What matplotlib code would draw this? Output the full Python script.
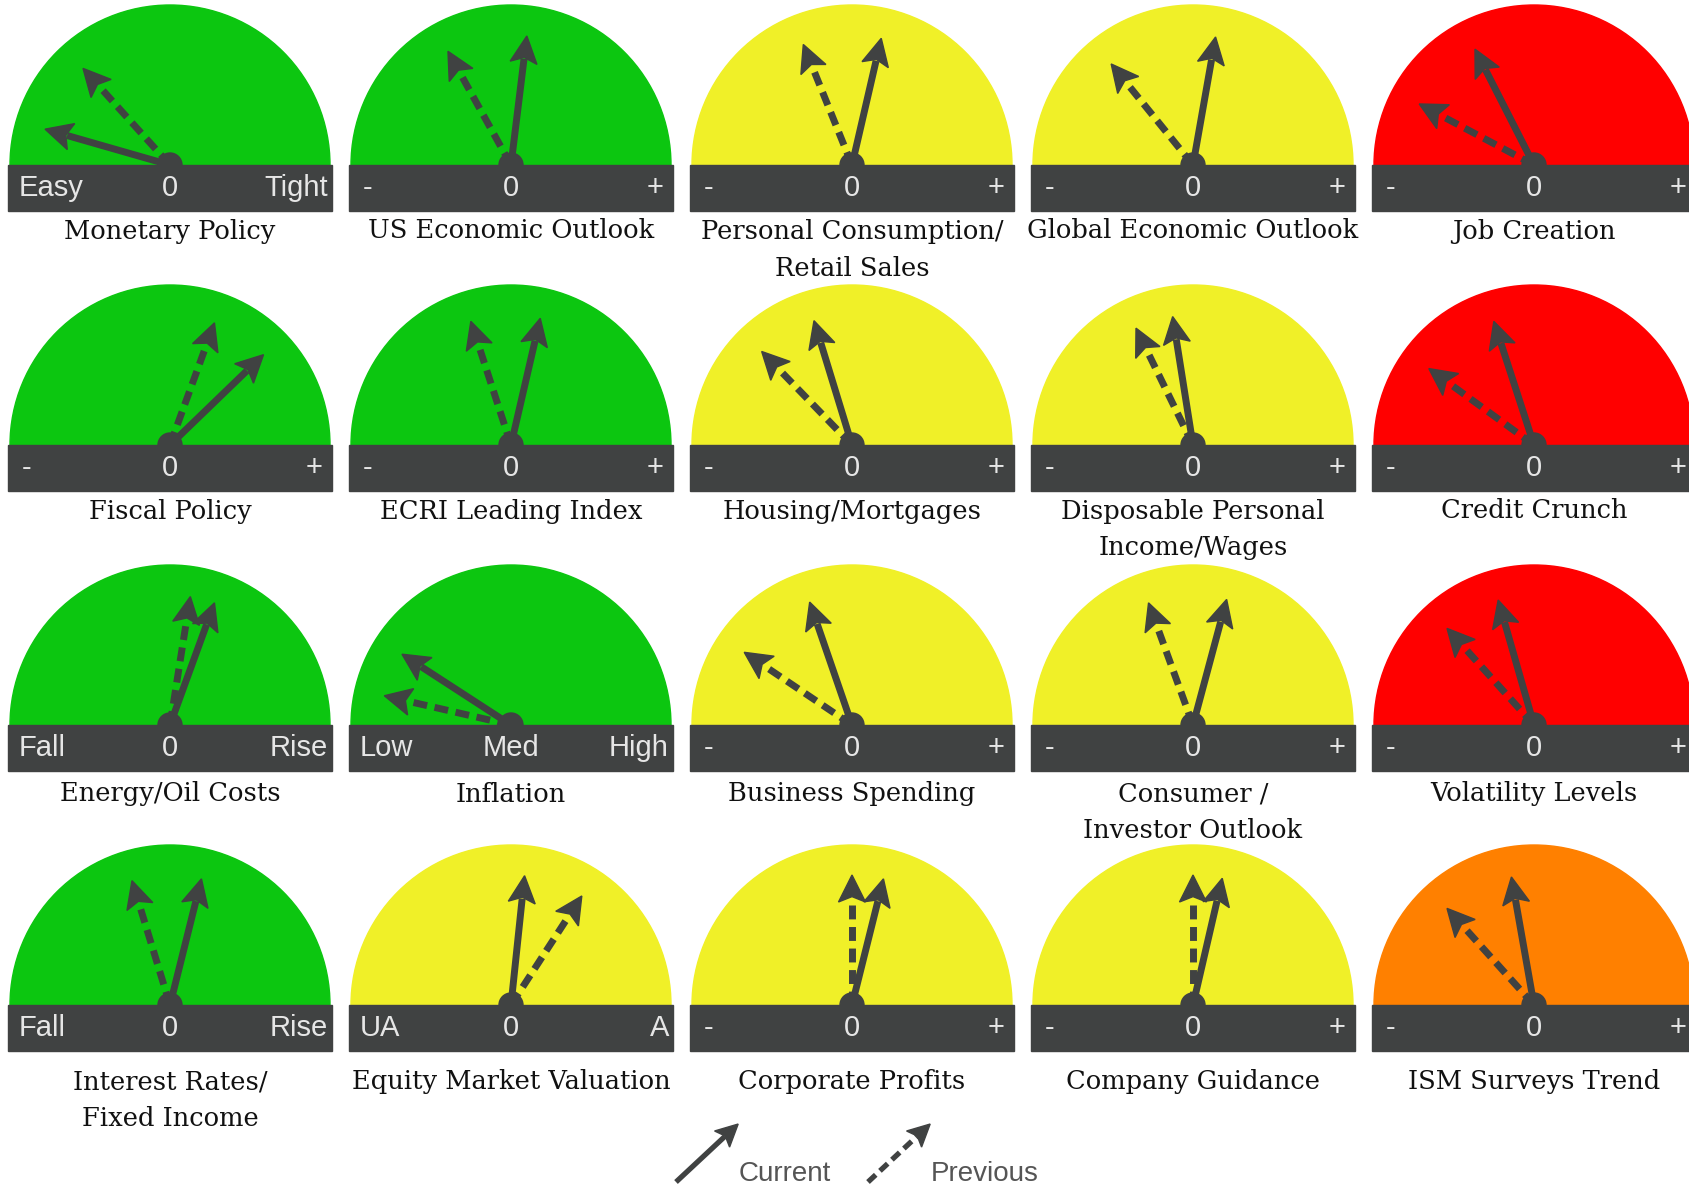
import numpy as np
import matplotlib
matplotlib.use("Agg")
import matplotlib.pyplot as plt
from matplotlib.patches import Wedge, Rectangle, Circle, Polygon

# ---------------- data ----------------
titles = ["Monetary Policy", "US Economic Outlook", "Personal Consumption/\nRetail Sales",
          "Global Economic Outlook", "Job Creation",
          "Fiscal Policy", "ECRI Leading Index", "Housing/Mortgages",
          "Disposable Personal\nIncome/Wages", "Credit Crunch",
          "Energy/Oil Costs", "Inflation", "Business Spending",
          "Consumer /\nInvestor Outlook", "Volatility Levels",
          "Interest Rates/\nFixed Income", "Equity Market Valuation", "Corporate Profits",
          "Company Guidance", "ISM Surveys Trend"]

left_labels = ["Easy", "-", "-", "-", "-",
               "-", "-", "-", "-", "-",
               "Fall", "Low", "-", "-", "-",
               "Fall", "UA", "-", "-", "-"]
mid_labels = ["0", "0", "0", "0", "0",
              "0", "0", "0", "0", "0",
              "0", "Med", "0", "0", "0",
              "0", "0", "0", "0", "0"]
right_labels = ["Tight", "+", "+", "+", "+",
                "+", "+", "+", "+", "+",
                "Rise", "High", "+", "+", "+",
                "Rise", "A", "+", "+", "+"]

G, Y, R, O = "#0cc610", "#f0f028", "#ff0000", "#ff8000"
face_colors = [G, G, Y, Y, R,
               G, G, Y, Y, R,
               G, G, Y, Y, R,
               G, Y, Y, Y, O]

# needle angles in degrees (0 = pointing right, 90 = straight up, 180 = left)
current_deg = [164, 83, 77, 80, 117,
               44, 77, 107, 99, 108,
               70, 147, 109, 75, 106,
               76, 84, 76, 77, 100]
previous_deg = [132, 119, 112, 129, 152,
                70, 108, 134, 116, 144,
                81, 167, 146, 110, 132,
                107, 57, 90, 90, 132]

# ---------------- layout ----------------
W, H = 1690, 1189
col_x0, col_step = 170, 341
row_y0, row_step = 165, 280
caption_y = [231, 511, 794, 1082]
radius = 160
bar_h = 46
needle_len = 130
dark = "#404242"
label_col = "#e6e6e6"


def draw_arrow(ax, x0, y0, ang, length, dashed, lw=5.0, hl=27, hw=13.5):
    a = np.radians(ang)
    ux, uy = np.cos(a), -np.sin(a)
    px, py = -uy, ux
    tx, ty = x0 + length * ux, y0 + length * uy
    bx, by = tx - hl * ux, ty - hl * uy
    ls = (0, (2.0, 1.1)) if dashed else "-"
    ax.plot([x0, bx + 4 * ux], [y0, by + 4 * uy], color=dark, lw=lw,
            linestyle=ls, solid_capstyle="butt", dash_capstyle="butt", zorder=3)
    head = Polygon([[tx, ty],
                    [bx + hw * px, by + hw * py],
                    [bx + 0.2 * hl * ux, by + 0.2 * hl * uy],
                    [bx - hw * px, by - hw * py]],
                   closed=True, color=dark, zorder=3)
    ax.add_patch(head)


fig = plt.figure(figsize=(W / 100, H / 100), dpi=100)
ax = fig.add_axes([0, 0, 1, 1])
ax.set_xlim(0, W)
ax.set_ylim(H, 0)
ax.axis("off")

for i, title in enumerate(titles):
    r, c = divmod(i, 5)
    cx = col_x0 + c * col_step
    by = row_y0 + r * row_step

    ax.add_patch(Wedge((cx, by), radius, 180, 360, color=face_colors[i], zorder=1))
    ax.add_patch(Rectangle((cx - radius - 2, by), 2 * radius + 4, bar_h, color=dark, zorder=2))

    draw_arrow(ax, cx, by, previous_deg[i], needle_len, True)
    draw_arrow(ax, cx, by, current_deg[i], needle_len, False)
    ax.add_patch(Circle((cx, by), 12, color=dark, zorder=4))

    ty = by + bar_h / 2
    lbl = dict(color=label_col, fontsize=21, family="Liberation Sans", va="center", zorder=5)
    if left_labels[i] == "-":
        ax.text(cx - 143, ty, "-", ha="center", **lbl)
    else:
        ax.text(cx - 151, ty, left_labels[i], ha="left", **lbl)
    ax.text(cx, ty, mid_labels[i], ha="center", **lbl)
    if right_labels[i] == "+":
        ax.text(cx + 144, ty, "+", ha="center", **lbl)
    else:
        ax.text(cx + 158, ty, right_labels[i], ha="right", **lbl)

    for k, line in enumerate(title.split("\n")):
        ax.text(cx, caption_y[r] + k * 37, line, ha="center", va="center",
                fontsize=18.5, family="DejaVu Serif", color="#111111")

# legend
draw_arrow(ax, 676, 1182, 43, 85, False, lw=3.8, hl=22, hw=11)
ax.text(739, 1174, "Current", ha="left", va="center", fontsize=20,
        family="Liberation Sans", color="#555555")
draw_arrow(ax, 868, 1182, 43, 85, True, lw=3.8, hl=22, hw=11)
ax.text(931, 1174, "Previous", ha="left", va="center", fontsize=20,
        family="Liberation Sans", color="#555555")

fig.savefig("out.png", dpi=100)
